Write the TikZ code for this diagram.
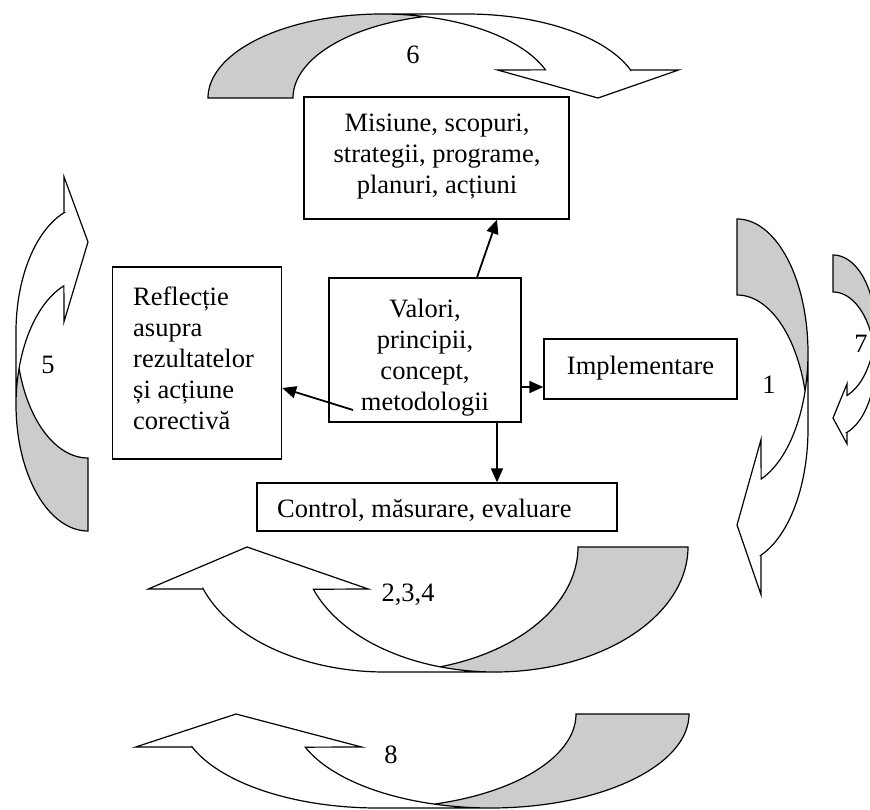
\documentclass[tikz,border=0pt]{standalone}
\usepackage{fontspec}
\setmainfont{Liberation Serif}
\usetikzlibrary{arrows.meta}
\definecolor{bgray}{RGB}{204,204,204}
% curved (Word-style) arrow: #1 transform, #2 w, #3 h, #4 thickness, #5 head width, #6 head length
\newcommand{\bentarrow}[6]{%
\begin{scope}[#1]
 \pgfmathsetmacro{\baW}{#2}%
 \pgfmathsetmacro{\baH}{#3}%
 \pgfmathsetmacro{\baT}{#4}%
 \pgfmathsetmacro{\baA}{#5}%
 \pgfmathsetmacro{\baAh}{#6}%
 \pgfmathsetmacro{\baR}{\baW/2-(\baT+\baA)/4}%
 \pgfmathsetmacro{\baAl}{asin(\baAh/\baH)}%
 \pgfmathsetmacro{\baTf}{360-\baAl}%
 \pgfmathsetmacro{\baXa}{\baR+\baR*cos(\baAl)}%
 \pgfmathsetmacro{\baXb}{\baXa+\baT}%
 \pgfmathsetmacro{\baXl}{\baXa-(\baA-\baT)/2}%
 \pgfmathsetmacro{\baXr}{\baXb+(\baA-\baT)/2}%
 \pgfmathsetmacro{\baXt}{\baW-\baA/2}%
 \pgfmathsetmacro{\baYa}{\baH-\baAh}%
 \pgfmathsetmacro{\baBe}{acos(\baT/(2*\baR))}%
 \pgfmathsetmacro{\baCb}{\baR+\baT}%
 \pgfmathsetmacro{\baBi}{360-\baBe}%
 \pgfmathsetmacro{\baBj}{180+\baBe}%
 \fill[bgray] plot[domain=0:1,samples=50] ({\baR+\baR*cos(180+(\baBi-180)*\x)},{\baH+\baH*sin(180+(\baBi-180)*\x)})
   -- plot[domain=0:1,samples=50] ({\baCb+\baR*cos(\baBj-(\baBj-180)*\x)},{\baH+\baH*sin(\baBj-(\baBj-180)*\x)}) -- cycle;
 \fill[white] (\baXt,\baH) -- (\baXl,\baYa) -- (\baXa,\baYa)
   -- plot[domain=0:1,samples=50] ({\baR+\baR*cos(\baTf-(\baTf-270)*\x)},{\baH+\baH*sin(\baTf-(\baTf-270)*\x)})
   -- plot[domain=0:1,samples=50] ({\baCb+\baR*cos(270+(\baTf-270)*\x)},{\baH+\baH*sin(270+(\baTf-270)*\x)})
   -- (\baXr,\baYa) -- cycle;
 \draw[arrline] plot[domain=0:1,samples=50] ({\baCb+\baR*cos(\baBj-(\baBj-180)*\x)},{\baH+\baH*sin(\baBj-(\baBj-180)*\x)})
   -- (0,\baH)
   -- plot[domain=0:1,samples=80] ({\baR+\baR*cos(180+(\baTf-180)*\x)},{\baH+\baH*sin(180+(\baTf-180)*\x)})
   -- (\baXl,\baYa) -- (\baXt,\baH) -- (\baXr,\baYa) -- (\baXb,\baYa)
   -- plot[domain=0:1,samples=50] ({\baCb+\baR*cos(\baTf-(\baTf-270)*\x)},{\baH+\baH*sin(\baTf-(\baTf-270)*\x)})
   -- (\baR,0);
\end{scope}}
\begin{document}
\begin{tikzpicture}[x=1pt,y=-1pt]
\tikzset{
 boxn/.style={draw, line width=1.3pt, inner sep=0pt},
 txt/.style={font=\fontsize{26.5}{31}\selectfont, inner sep=0pt},
 conn/.style={line width=1.8pt, -{Triangle[length=14pt,width=12pt]}},
 arrline/.style={line width=1.2pt, line join=miter},
}
\clip (0,0) rectangle (870,809);
\fill[white] (0,0) rectangle (870,809);

% curved arrows
\bentarrow{shift={(208,14)}}{480.5}{84}{85}{181}{28}
\bentarrow{shift={(688,672)},rotate=180}{551}{125}{110}{220}{42}
\bentarrow{shift={(689,808)},rotate=180}{566}{94}{113}{226}{33}
\bentarrow{shift={(16,531)},rotate=90}{361.5}{72}{73}{145}{24}
\bentarrow{shift={(808,219)},rotate=-90}{383.5}{71}{76}{155}{24}
\bentarrow{shift={(875,255)},rotate=-90}{193}{42}{37}{60}{14}

% boxes
\node[boxn, minimum width=265pt, minimum height=122pt] (mis) at (436.5,158) {};
\node[boxn, minimum width=169pt, minimum height=192pt] (ref) at (197,363) {};
\node[boxn, minimum width=192pt, minimum height=144pt] (val) at (425,350) {};
\node[boxn, minimum width=193pt, minimum height=60pt] (imp) at (640.5,369) {};
\node[boxn, minimum width=360pt, minimum height=48pt] (ctl) at (437,507) {};

% texts
\node[txt, align=center] (tmis) at (437,157) {Misiune, scopuri,\\strategii, programe,\\planuri, acțiuni};
\node[txt, align=center] (tval) at (425,358) {Valori,\\principii,\\concept,\\metodologii};
\node[txt, align=left, anchor=west] (tref) at (133,358) {Reflecție\\asupra\\rezultatelor\\și acțiune\\corectivă};
\node[txt] (timp) at (640.5,368) {Implementare};
\node[txt, anchor=west] (tctl) at (277,510) {Control, măsurare, evaluare};

% labels
\node[txt] (l6) at (413,55) {6};
\node[txt] (l5) at (48,365) {5};
\node[txt] (l1) at (769,385) {1};
\node[txt] (l7) at (861,344) {7};
\node[txt] (l234) at (408,595) {2,3,4};
\node[txt] (l8) at (391,755) {8};

% connectors
\coordinate (vs) at (353,410);
\draw[conn] ([xshift=52pt]val.north) -- ([xshift=60.5pt]mis.south);
\draw[conn] ([yshift=-37pt]val.east) -- ([yshift=-37pt]val.east -| imp.west);
\draw[conn] ([xshift=72pt]val.south) -- ([xshift=72pt]val.south |- ctl.north);
\draw[conn] (vs) -- ([yshift=-25pt]ref.east);
\end{tikzpicture}
\end{document}
